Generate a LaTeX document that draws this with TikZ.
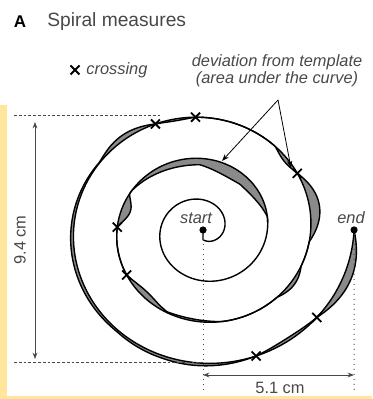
\documentclass[tikz,border=0pt]{standalone}
\usepackage{fontspec}
\setmainfont{Liberation Sans}
\usetikzlibrary{arrows.meta,shapes.misc}
\definecolor{spi_gray}{RGB}{138,138,138}
\definecolor{spi_text}{RGB}{72,72,72}
\definecolor{spi_yellow}{RGB}{255,230,155}

\begin{document}
\begin{tikzpicture}[
  x=0.5pt,y=-0.5pt,
  font=\fontsize{8}{9.6}\selectfont,
  declare function={
    rr(\u)=21+6.9*\u;
    bp(\u,\ta,\tb,\hh)=(\u>\ta)*(\u<\tb)*\hh*sin(180*(\u-\ta)/(\tb-\ta));
    dev(\u)=bp(\u,6.5,7.9,-10)+bp(\u,7.2,8.9,-7)+bp(\u,8.95,9.39,-9)
           +bp(\u,9.98,10.6,-6)+bp(\u,10.5,11.2,-2)+bp(\u,11.8,12.2,4)
           +bp(\u,12.45,13.13,10)+bp(\u,13.13,13.45,-4)+bp(\u,14.2,14.54,-2)
           +bp(\u,14.54,15.1,5)+bp(\u,15.0,17.0,3)+bp(\u,16.6,17.66,3)
           +bp(\u,17.66,18.17,-3)+bp(\u,18.17,18.85,8);
    sx(\u)=203+rr(\u)*cos(deg(\u));
    sy(\u)=230-0.95*rr(\u)*sin(deg(\u));
    hx(\u)=203+(rr(\u)+dev(\u))*cos(deg(\u));
    hy(\u)=230-0.95*(rr(\u)+dev(\u))*sin(deg(\u));
  },
  lbl/.style={text=spi_text,inner sep=0pt,font=\fontsize{8.2}{8.6}\selectfont\itshape},
  dimlbl/.style={text=spi_text,inner sep=0pt,font=\fontsize{8.2}{9.6}\selectfont},
  spiral/.style={line width=0.7pt,variable=\t,samples=700},
  cross/.style={draw,cross out,line width=0.9pt,minimum size=3.6pt,inner sep=0pt},
  enddot/.style={circle,fill=black,minimum size=3.6pt,inner sep=0pt},
  guide/.style={line width=0.45pt,dash pattern=on 1.4pt off 1pt,spi_text},
  dotguide/.style={line width=0.5pt,dotted,spi_text},
  dim/.style={{Stealth[length=3.2pt,width=2.4pt]}-{Stealth[length=3.2pt,width=2.4pt]},line width=0.5pt,spi_text},
  arrow/.style={-{Stealth[length=3.6pt,width=2.6pt]},line width=0.4pt}
]
\useasboundingbox (0,0) rectangle (372,399);
% panel frame
\fill[spi_yellow] (0,105) rectangle (7,399);
\fill[spi_yellow] (0,396) rectangle (372,399);

% title
\node[inner sep=0pt,font=\fontsize{8.5}{10}\selectfont\bfseries] (panel) at (20,22) {A};
\node[inner sep=0pt,anchor=west,text=spi_text,font=\fontsize{9.6}{11}\selectfont] (title) at (47,22) {Spiral measures};

% legend
\node[cross] (key) at (75,70) {};
\node[lbl,anchor=west] (keytxt) at (86,70) {crossing};
\node[lbl,align=center] (devtxt) at (277,71) {deviation from template\\(area under the curve)};

% start / end
\node[enddot] (start) at (203,230) {};
\node[enddot] (end) at ({sx(18.85)},{sy(18.85)}) {};
\node[lbl] (starttxt) at (196,218) {start};
\node[lbl] (endtxt) at (351,218) {end};

% deviation areas
\fill[spi_gray,variable=\t,samples=600]
  plot[domain=6.4:18.85] ({sx(\t)},{sy(\t)})
  -- plot[domain=18.85:6.4] ({hx(\t)},{hy(\t)}) -- cycle;

% template and drawn spiral
\draw[spiral] (start.center) -- plot[domain=-1.57:18.85] ({sx(\t)},{sy(\t)});
\draw[spiral,samples=600] plot[domain=6.4:18.85] ({hx(\t)},{hy(\t)});

% crossings
\foreach \k [count=\i] in {9.39,9.98,13.13,14.2,14.54,17.66,18.17}
  \node[cross] (cx\i) at ({sx(\k)},{sy(\k)}) {};

% pointers
\coordinate (apex) at (278,100);
\coordinate (tipA) at (222,161);
\coordinate (tipB) at (291,168);
\draw[arrow] (apex) -- (tipA);
\draw[arrow] (apex) -- (tipB);

% size guides
\coordinate (topL) at (14,115);
\coordinate (topR) at (160,115);
\coordinate (botL) at (14,362);
\coordinate (botR) at (203,362);
\draw[guide] (topL) -- (topR);
\draw[guide] (botL) -- (botR);
\coordinate (startlow) at (203,392);
\coordinate (endlow) at (354,392);
\draw[dotguide] (start) -- (startlow);
\draw[dotguide] (end) -- (endlow);

% dimensions
\coordinate (hTop) at (35,122);
\coordinate (hBot) at (35,359);
\draw[dim] (hTop) -- (hBot);
\node[dimlbl,rotate=90] (htxt) at (20,240) {9.4 cm};
\coordinate (wL) at (203,375);
\coordinate (wR) at (354,375);
\draw[dim] (wL) -- (wR);
\node[dimlbl] (wtxt) at (280,388) {5.1 cm};
\end{tikzpicture}
\end{document}
